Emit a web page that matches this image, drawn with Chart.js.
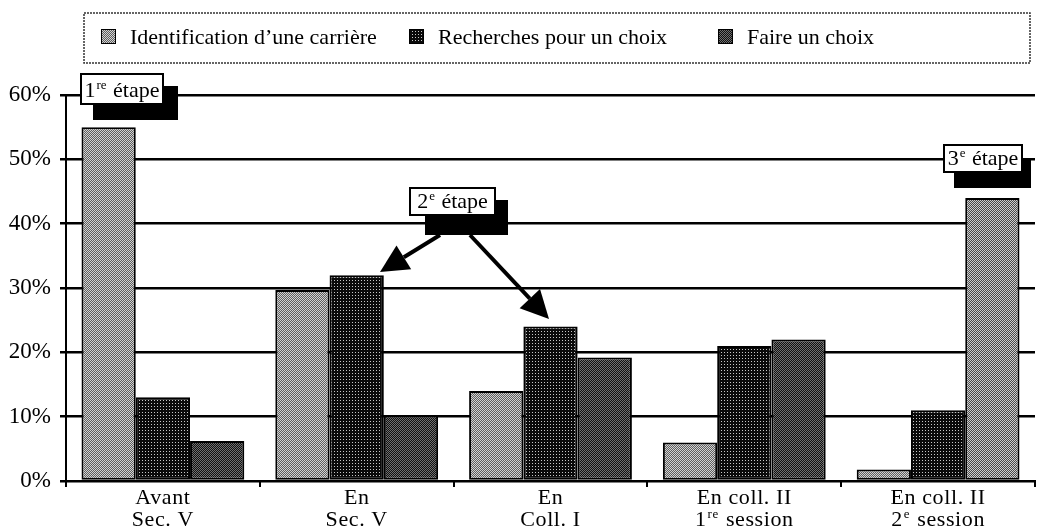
<!DOCTYPE html>
<html>
<head>
<meta charset="utf-8">
<script src="https://cdn.jsdelivr.net/npm/chart.js@4.4.1/dist/chart.umd.min.js"></script>
<style>
  html, body { margin: 0; padding: 0; background: #fff; }
</style>
</head>
<body>
<canvas id="myChart" width="1039" height="529"></canvas>
<script>
// data
const categories = [
    ['Avant', 'Sec. V'],
    ['En', 'Sec. V'],
    ['En', 'Coll. I'],
    ['En coll. II', '1{re} session'],
    ['En coll. II', '2{e} session'],
];
const seriesNames = ['Identification d\u2019une carri\u00e8re', 'Recherches pour un choix', 'Faire un choix'];
const identification = [55, 29.7, 14, 6, 1.8];
const recherches = [13, 32, 24, 21, 11];
const faireChoix = [6.2, 10.2, 19.2, 22, 44];
const yTicks = [0, 10, 20, 30, 40, 50, 60];

const SERIF = '"Liberation Serif", "DejaVu Serif", serif';

// little dithered tiles to look like the printed screens
function makePattern(size, bg, fg, dots) {
    const c = document.createElement('canvas');
    c.width = size; c.height = size;
    const x = c.getContext('2d');
    x.fillStyle = bg;
    x.fillRect(0, 0, size, size);
    x.fillStyle = fg;
    dots.forEach(d => x.fillRect(d[0], d[1], 1, 1));
    return x.createPattern(c, 'repeat');
}
const lightFill = makePattern(2, '#5e5e5e', '#d2d2d2', [[0, 0], [1, 1]]);
const darkFill = makePattern(3, '#0a0a0a', '#c8c8c8', [[1, 1]]);
const midFill = makePattern(2, '#111', '#707070', [[0, 0], [1, 1]]);
const paleFill = makePattern(2, '#4a4a4a', '#cfcfcf', [[0, 0], [1, 1]]);

// text with {superscript} parts
function drawSup(ctx, str, y, size, spacing) {
    const parts = str.split(/(\{[^}]*\})/).filter(p => p.length);
    let w = 0;
    ctx.letterSpacing = (spacing || 0) + 'px';
    const items = parts.map(p => {
        const sup = p[0] === '{';
        const t = sup ? p.slice(1, -1) : p;
        ctx.font = (sup ? Math.round(size * 0.6) : size) + 'px ' + SERIF;
        const tw = ctx.measureText(t).width;
        w += tw + (sup ? 2 : 0);
        return {t, sup, tw};
    });
    return {w, draw(x0) {
        let cx = x0;
        ctx.letterSpacing = (spacing || 0) + 'px';
        items.forEach(it => {
            ctx.font = (it.sup ? Math.round(size * 0.6) : size) + 'px ' + SERIF;
            ctx.fillText(it.t, cx + (it.sup ? 1 : 0), it.sup ? y - size * 0.38 : y);
            cx += it.tw + (it.sup ? 2 : 0);
        });
        ctx.letterSpacing = '0px';
    }};
}

function arrow(ctx, x1, y1, x2, y2) {
    const a = Math.atan2(y2 - y1, x2 - x1);
    const hl = 28, hw = 14;
    const bx = x2 - hl * Math.cos(a), by = y2 - hl * Math.sin(a);
    ctx.strokeStyle = '#000';
    ctx.lineWidth = 4;
    ctx.beginPath();
    ctx.moveTo(x1, y1);
    ctx.lineTo(bx, by);
    ctx.stroke();
    ctx.beginPath();
    ctx.moveTo(x2, y2);
    ctx.lineTo(bx + hw * Math.sin(a), by - hw * Math.cos(a));
    ctx.lineTo(bx - hw * Math.sin(a), by + hw * Math.cos(a));
    ctx.closePath();
    ctx.fillStyle = '#000';
    ctx.fill();
}

const extras = {
    id: 'extras',
    afterDraw(chart) {
        const ctx = chart.ctx;
        const xs = chart.scales.x;
        ctx.save();
        ctx.textBaseline = 'alphabetic';
        ctx.fillStyle = '#000';

        // category labels, two lines
        categories.forEach((lines, i) => {
            const cx = xs.getPixelForValue(i);
            lines.forEach((ln, j) => {
                const s = drawSup(ctx, ln, 504 + j * 22, 22, 0.6);
                ctx.fillStyle = '#000';
                s.draw(cx - s.w / 2);
            });
        });

        // legend frame
        ctx.strokeStyle = '#333';
        ctx.lineWidth = 1.5;
        ctx.setLineDash([2, 1]);
        ctx.strokeRect(84, 13, 946, 50);
        ctx.setLineDash([]);

        const fills = [lightFill, darkFill, midFill];
        const lx = [101, 409, 718];
        seriesNames.forEach((n, i) => {
            ctx.fillStyle = fills[i];
            ctx.fillRect(lx[i], 29, 15, 15);
            ctx.strokeStyle = '#000';
            ctx.lineWidth = 1;
            ctx.strokeRect(lx[i] + 0.5, 29.5, 14, 14);
            ctx.fillStyle = '#000';
            ctx.font = '22px ' + SERIF;
            ctx.fillText(n, lx[i] + 29, 44);
        });

        // step call-outs
        const steps = [
            {text: '1{re} \u00e9tape', box: [81, 74, 82, 30], shadow: [93, 86, 85, 34]},
            {text: '2{e} \u00e9tape', box: [410, 188, 85, 27], shadow: [425, 200, 83, 35]},
            {text: '3{e} \u00e9tape', box: [944, 145, 78, 27], shadow: [954, 158, 77, 30]},
        ];
        steps.forEach(s => {
            ctx.fillStyle = '#000';
            ctx.fillRect(...s.shadow);
            ctx.fillStyle = '#fff';
            ctx.fillRect(...s.box);
            ctx.strokeStyle = '#000';
            ctx.lineWidth = 2;
            ctx.strokeRect(...s.box);
            const t = drawSup(ctx, s.text, s.box[1] + s.box[3] - 7, 22, 0);
            ctx.fillStyle = '#000';
            t.draw(s.box[0] + (s.box[2] - t.w) / 2);
        });

        arrow(ctx, 440, 235, 380, 272);
        arrow(ctx, 470, 235, 549, 319);
        ctx.restore();
    }
};

const graph = document.getElementById('myChart');

const myChart = new Chart(graph, {
    type: 'bar',
    data: {
        labels: categories.map(c => c.join(' ')),
        datasets: [
            {label: seriesNames[0], data: identification, backgroundColor: lightFill},
            {label: seriesNames[1], data: recherches, backgroundColor: darkFill},
            {label: seriesNames[2], data: faireChoix,
             backgroundColor: [midFill, midFill, midFill, midFill, paleFill]},
        ].map(d => Object.assign(d, {
            borderColor: '#000',
            borderWidth: 2,
            borderSkipped: false,
            categoryPercentage: 0.84,
            barPercentage: 1.0,
        }))
    },
    options: {
        responsive: false,
        animation: false,
        devicePixelRatio: 1,
        layout: {padding: {top: 95, right: 4, left: 0, bottom: 0}},
        plugins: {
            legend: {display: false},
            tooltip: {enabled: false},
        },
        scales: {
            x: {
                grid: {display: true, drawOnChartArea: false, drawTicks: true, tickLength: 6,
                       color: '#000', lineWidth: 2, offset: true},
                border: {display: true, color: '#000', width: 2},
                ticks: {display: false},
                afterFit: s => { s.height = 48; },
            },
            y: {
                min: 0,
                max: 60,
                afterBuildTicks: s => { s.ticks = yTicks.map(v => ({value: v})); },
                grid: {color: '#000', lineWidth: 2.5, tickLength: 6, drawTicks: true},
                border: {display: true, color: '#000', width: 2},
                ticks: {
                    padding: 9,
                    color: '#000',
                    font: {family: SERIF, size: 23},
                    callback: v => v + '%',
                },
                afterFit: s => { s.width = 66; },
            }
        }
    },
    plugins: [extras]
});
</script>
</body>
</html>
